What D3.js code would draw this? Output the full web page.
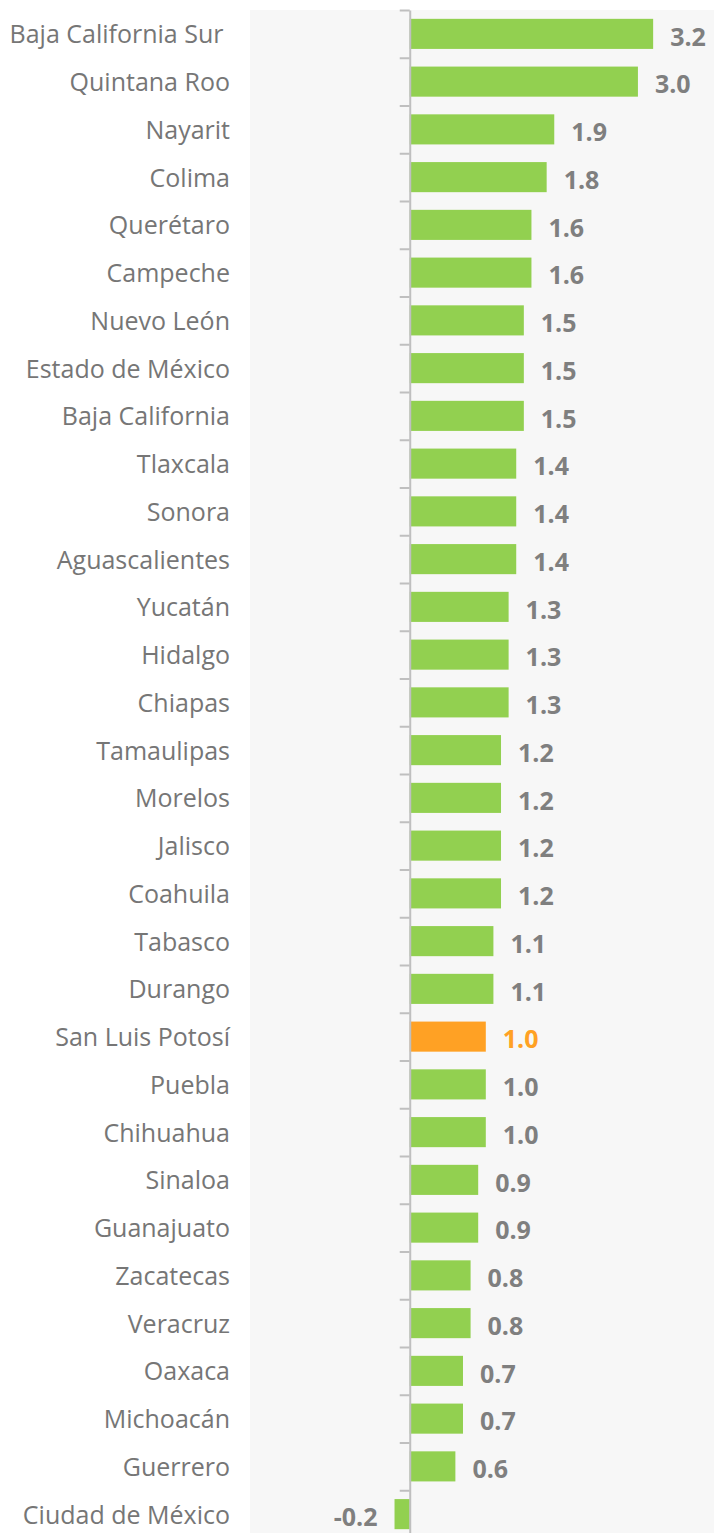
<!DOCTYPE html>
<html>
<head>
<meta charset="utf-8">
<script src="https://cdn.jsdelivr.net/npm/d3@7"></script>
<style>
    body { margin: 0; background: #ffffff; }
    svg { display: block; }
    .cat { font-family: "Open Sans", sans-serif; font-size: 25px; fill: #767676; }
    .val { font-family: "Open Sans", sans-serif; font-size: 25px; font-weight: bold; fill: #7f7f7f; }
    .val.hl { fill: #ffa124; }
</style>
</head>
<body>
<svg id="chart" width="714" height="1533"></svg>
<script>
// states, top to bottom
var states = ["Baja California Sur ", "Quintana Roo", "Nayarit", "Colima", "Querétaro", "Campeche",
    "Nuevo León", "Estado de México", "Baja California", "Tlaxcala", "Sonora", "Aguascalientes",
    "Yucatán", "Hidalgo", "Chiapas", "Tamaulipas", "Morelos", "Jalisco", "Coahuila", "Tabasco",
    "Durango", "San Luis Potosí", "Puebla", "Chihuahua", "Sinaloa", "Guanajuato", "Zacatecas",
    "Veracruz", "Oaxaca", "Michoacán", "Guerrero", "Ciudad de México"];
var values = [3.2, 3.0, 1.9, 1.8, 1.6, 1.6, 1.5, 1.5, 1.5, 1.4, 1.4, 1.4, 1.3, 1.3, 1.3, 1.2,
    1.2, 1.2, 1.2, 1.1, 1.1, 1.0, 1.0, 1.0, 0.9, 0.9, 0.8, 0.8, 0.7, 0.7, 0.6, -0.2];
var highlight = "San Luis Potosí";

var data = states.map(function (s, i) {
    return {state: s, value: values[i]};
});

var svg = d3.select("#chart");
var plotTop = 10, plotLeft = 250, plotRight = 714, band = 47.75;
var plotBottom = plotTop + band * states.length;

// plot area background
svg.append("rect")
    .attr("x", plotLeft)
    .attr("y", plotTop)
    .attr("width", plotRight - plotLeft)
    .attr("height", plotBottom - plotTop)
    .attr("fill", "#f7f7f7");

var xScale = d3.scaleLinear()
    .domain([-2.1, 4.0])
    .range([plotLeft, plotRight]);

var yScale = d3.scaleBand()
    .domain(states)
    .range([plotTop, plotBottom])
    .paddingInner(0.37)
    .paddingOuter(0.185);

// ticks sit on the category boundaries
var tickScale = d3.scaleLinear()
    .domain([0, states.length])
    .range([plotTop, plotBottom]);

var yAxis = d3.axisLeft(tickScale)
    .tickValues(d3.range(0, states.length + 1))
    .tickSize(10)
    .tickSizeOuter(0)
    .tickFormat("");

svg.append("g").selectAll("rect")
    .data(data)
    .enter()
    .append("rect")
    .attr("x", function (d) { return xScale(Math.min(0, d.value)); })
    .attr("y", function (d) { return yScale(d.state); })
    .attr("width", function (d) { return Math.abs(xScale(d.value) - xScale(0)); })
    .attr("height", yScale.bandwidth())
    .attr("fill", function (d) { return d.state === highlight ? "#ffa124" : "#92d050"; });

var axis = svg.append("g")
    .attr("transform", "translate(" + xScale(0) + ",0)")
    .call(yAxis);
axis.select(".domain").attr("stroke", "#bfbfbf").attr("stroke-width", 2);
axis.selectAll(".tick line").attr("stroke", "#bfbfbf").attr("stroke-width", 2);

svg.append("g").selectAll("text")
    .data(data)
    .enter()
    .append("text")
    .attr("class", "cat")
    .attr("x", 230)
    .attr("y", function (d) { return yScale(d.state) + yScale.bandwidth() / 2; })
    .attr("dy", "0.38em")
    .attr("text-anchor", "end")
    .style("white-space", "pre")
    .text(function (d) { return d.state; });

svg.append("g").selectAll("text")
    .data(data)
    .enter()
    .append("text")
    .attr("class", function (d) { return d.state === highlight ? "val hl" : "val"; })
    .attr("x", function (d) {
        return d.value < 0 ? xScale(d.value) - 17 : xScale(d.value) + 17;
    })
    .attr("y", function (d) { return yScale(d.state) + yScale.bandwidth() / 2; })
    .attr("dy", "0.47em")
    .attr("text-anchor", function (d) { return d.value < 0 ? "end" : "start"; })
    .text(function (d) { return d.value.toFixed(1); });
</script>
</body>
</html>
